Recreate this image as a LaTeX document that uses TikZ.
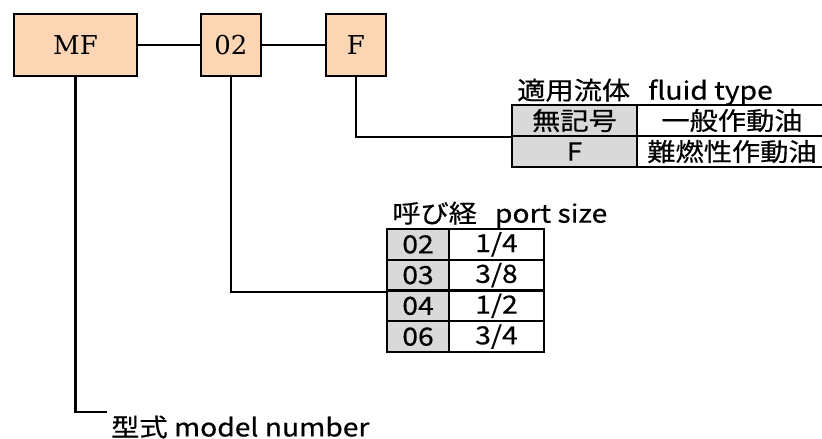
\documentclass[tikz,border=0pt]{standalone}
\usepackage{fontspec}
\newfontfamily\codefont{DejaVu Serif}
\newfontfamily\jpfont{Noto Sans CJK JP}[FakeStretch=1.13,FakeBold=0.5]
\definecolor{peach}{HTML}{FCD5B4}
\definecolor{cellgray}{HTML}{D9D9D9}
\tikzset{
  codebox/.style={draw=black,fill=peach,line width=2.6pt,minimum height=62pt,inner sep=0pt,font=\codefont\fontsize{26}{30}\selectfont},
  keycell/.style={draw=black,fill=cellgray,line width=2.2pt,inner sep=0pt,font=\jpfont\fontsize{25}{28}\selectfont},
  valcell/.style={keycell,fill=white},
  caption/.style={anchor=west,inner sep=0pt,font=\jpfont\fontsize{25}{28}\selectfont},
  link/.style={line width=2.2pt,draw=black}
}

\begin{document}
\begin{tikzpicture}[x=1pt,y=-1pt]
        \useasboundingbox (0,0) rectangle (822,439);

        \node[codebox,minimum width=123pt] (mf) at (75.5,45) {MF};
        \node[codebox,minimum width=60pt] (p02) at (231,45) {02};
        \node[codebox,minimum width=60pt] (pF) at (356,45) {F};
        \draw[link] (mf) -- (p02);
        \draw[link] (p02) -- (pF);

        \node[caption] (fluidcap) at (517,92) {適用流体\hspace{18pt}fluid type};
        \foreach \k/\v/\i in {無記号/一般作動油/1,F/難燃性作動油/2} {
          \node[keycell,minimum width=125pt,minimum height=31pt] (fk\i) at (574.5,105+31*\i-15.5) {\k};
          \node[valcell,minimum width=190pt,minimum height=31pt] (fv\i) at (732,105+31*\i-15.5) {\v};
        }

        \node[caption] (portcap) at (392,215) {呼び経\hspace{18pt}port size};
        \foreach \k/\v/\i in {02/{1/4}/0,03/{3/8}/1,04/{1/2}/2,06/{3/4}/3} {
          \node[keycell,minimum width=62pt,minimum height=30.75pt] (k\k) at (418,229+30.75*\i+15.4) {\k};
          \node[valcell,minimum width=95pt,minimum height=30.75pt] (v\k) at (496.5,229+30.75*\i+15.4) {\v};
        }

        \coordinate (mfend) at (107,412);
        \node[caption] (model) at (111,427) {型式 model number};

        \draw[link] (pF.south) |- (fk1.south west);
        \draw[link] (p02.south) |- (k03.south west);
        \draw[link] (mf.south) |- (mfend);
      \end{tikzpicture}
\end{document}
